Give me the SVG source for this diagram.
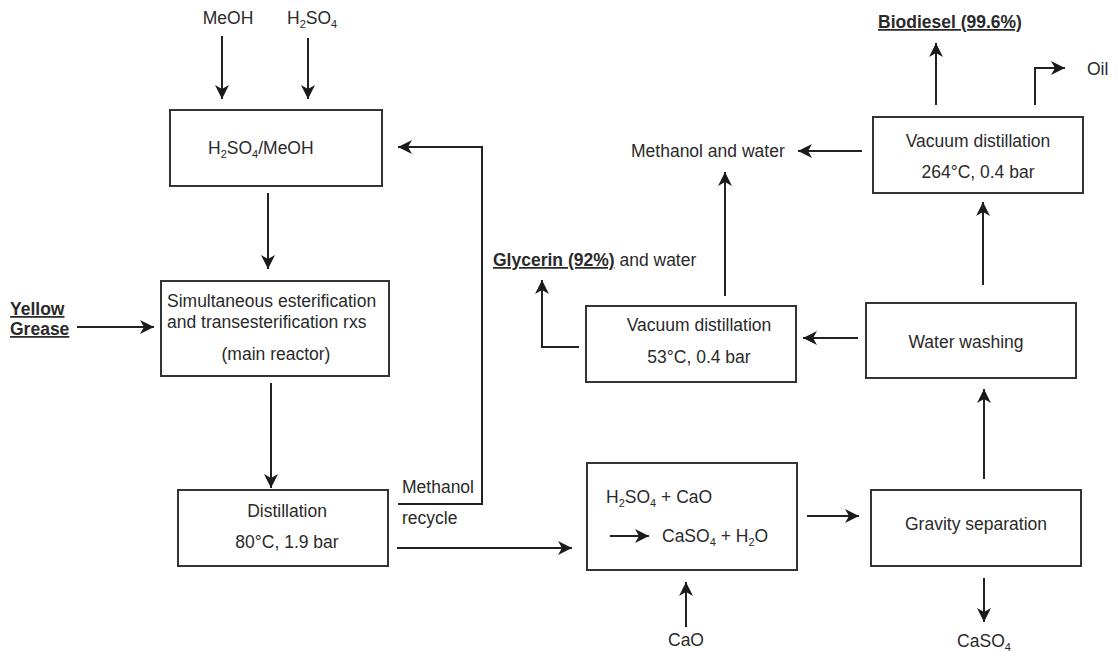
<svg xmlns="http://www.w3.org/2000/svg" width="1117" height="652" viewBox="0 0 1117 652">
  <style>
    text { font-family: "Liberation Sans", Arial, sans-serif; font-size: 17.5px; fill: #2a2a2a; }
    .b { font-weight: bold; }
    .u { text-decoration: underline; }
    .c { text-anchor: middle; }
    .sub { font-size: 11px; }
    .box { fill: #fff; stroke: #333; stroke-width: 2; }
    .ln { fill: none; stroke: #222; stroke-width: 2; }
  </style>
  <defs>
    <marker id="arr" markerUnits="userSpaceOnUse" markerWidth="16" markerHeight="14" viewBox="0 0 16 14" refX="14" refY="7" orient="auto">
      <path d="M0,0 L14,7 L0,14 L4,7 z" fill="#1a1a1a"/>
    </marker>
  </defs>

  <rect width="1117" height="652" fill="#fff"/>

  <!-- feed labels -->
  <g id="feed-meoh"><text x="228" y="24" class="c">MeOH</text></g>
  <g id="feed-h2so4"><text x="287" y="24">H<tspan class="sub" dy="4">2</tspan><tspan dy="-4">SO</tspan><tspan class="sub" dy="4">4</tspan></text></g>
  <g id="feed-grease">
    <text x="10" y="315" class="b u">Yellow</text>
    <text x="10" y="335" class="b u">Grease</text>
  </g>
  <g id="feed-cao"><text x="686" y="646" class="c">CaO</text></g>

  <!-- process units -->
  <g id="acid-mix">
    <rect class="box" x="170" y="110" width="212" height="76"/>
    <text x="208" y="154">H<tspan class="sub" dy="4">2</tspan><tspan dy="-4">SO</tspan><tspan class="sub" dy="4">4</tspan><tspan dy="-4">/MeOH</tspan></text>
  </g>
  <g id="main-reactor">
    <rect class="box" x="161" y="281" width="228" height="95"/>
    <text x="167" y="307">Simultaneous  esterification</text>
    <text x="167" y="328">and transesterification rxs</text>
    <text x="276" y="360" class="c">(main reactor)</text>
  </g>
  <g id="distillation">
    <rect class="box" x="178" y="490" width="210" height="76"/>
    <text x="287" y="517" class="c">Distillation</text>
    <text x="287" y="548" class="c">80°C, 1.9 bar</text>
  </g>
  <g id="neutralizer">
    <rect class="box" x="587" y="463" width="210" height="107"/>
    <text x="606" y="503">H<tspan class="sub" dy="4">2</tspan><tspan dy="-4">SO</tspan><tspan class="sub" dy="4">4</tspan><tspan dy="-4"> + CaO</tspan></text>
    <line class="ln" x1="610" y1="536" x2="649" y2="536" marker-end="url(#arr)"/>
    <text x="662" y="542">CaSO<tspan class="sub" dy="4">4</tspan><tspan dy="-4"> + H</tspan><tspan class="sub" dy="4">2</tspan><tspan dy="-4">O</tspan></text>
  </g>
  <g id="gravity-separation">
    <rect class="box" x="871" y="490" width="210" height="76"/>
    <text x="976" y="530" class="c">Gravity separation</text>
  </g>
  <g id="water-washing">
    <rect class="box" x="866" y="303" width="210" height="75"/>
    <text x="966" y="348" class="c">Water washing</text>
  </g>
  <g id="vacuum-distillation-glycerin">
    <rect class="box" x="586" y="306" width="210" height="76"/>
    <text x="699" y="331" class="c">Vacuum distillation</text>
    <text x="699" y="363" class="c">53°C, 0.4 bar</text>
  </g>
  <g id="vacuum-distillation-biodiesel">
    <rect class="box" x="873" y="117" width="210" height="76"/>
    <text x="978" y="147" class="c">Vacuum distillation</text>
    <text x="978" y="178" class="c">264°C, 0.4 bar</text>
  </g>

  <!-- product labels -->
  <g id="out-caso4"><text x="984" y="647" class="c">CaSO<tspan class="sub" dy="4">4</tspan></text></g>
  <g id="out-glycerin"><text x="493" y="266"><tspan class="b u">Glycerin (92%)</tspan> and water</text></g>
  <g id="out-methanol-water"><text x="631" y="157">Methanol and water</text></g>
  <g id="out-biodiesel"><text x="878" y="28" class="b u">Biodiesel (99.6%)</text></g>
  <g id="out-oil"><text x="1087" y="75">Oil</text></g>
  <g id="recycle-label">
    <text x="402" y="493">Methanol</text>
    <text x="402" y="524">recycle</text>
  </g>

  <!-- connectors -->
  <g id="connectors" class="ln">
    <line class="ln" x1="222" y1="36" x2="222" y2="99" marker-end="url(#arr)"/>
    <line class="ln" x1="308" y1="38" x2="308" y2="99" marker-end="url(#arr)"/>
    <line class="ln" x1="268" y1="193" x2="268" y2="269" marker-end="url(#arr)"/>
    <line class="ln" x1="77" y1="327" x2="154" y2="327" marker-end="url(#arr)"/>
    <line class="ln" x1="271" y1="383" x2="271" y2="488" marker-end="url(#arr)"/>
    <path class="ln" d="M398,504 H482 V147 H398" marker-end="url(#arr)"/>
    <line class="ln" x1="397" y1="548" x2="572" y2="548" marker-end="url(#arr)"/>
    <line class="ln" x1="686" y1="627" x2="686" y2="582" marker-end="url(#arr)"/>
    <line class="ln" x1="807" y1="516" x2="859" y2="516" marker-end="url(#arr)"/>
    <line class="ln" x1="984" y1="578" x2="984" y2="622" marker-end="url(#arr)"/>
    <line class="ln" x1="984" y1="479" x2="984" y2="389" marker-end="url(#arr)"/>
    <line class="ln" x1="858" y1="338" x2="803" y2="338" marker-end="url(#arr)"/>
    <path class="ln" d="M579,347 H542 V280" marker-end="url(#arr)"/>
    <line class="ln" x1="725" y1="296" x2="725" y2="172" marker-end="url(#arr)"/>
    <line class="ln" x1="862" y1="151" x2="798" y2="151" marker-end="url(#arr)"/>
    <line class="ln" x1="983" y1="285" x2="983" y2="202" marker-end="url(#arr)"/>
    <line class="ln" x1="936" y1="105" x2="936" y2="43" marker-end="url(#arr)"/>
    <path class="ln" d="M1035,105 V68 H1065" marker-end="url(#arr)"/>
  </g>
</svg>
